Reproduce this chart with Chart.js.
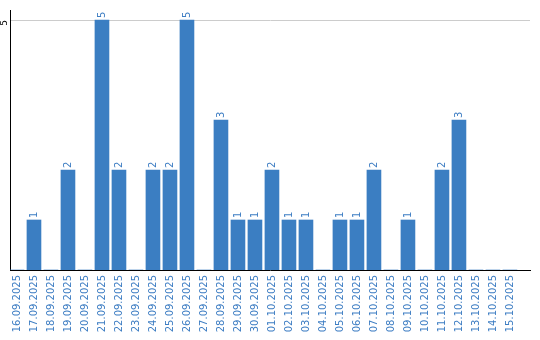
<!DOCTYPE html>
<html>
<head>
<meta charset="utf-8">
<script src="https://cdn.jsdelivr.net/npm/chart.js@4"></script>
<style>
    body { margin: 0; background: #fff; }
    #chart { display: block; }
</style>
</head>
<body>
<canvas id="chart" width="540" height="340"></canvas>
<script>
// Data
const dates = [
    '16.09.2025', '17.09.2025', '18.09.2025', '19.09.2025', '20.09.2025',
    '21.09.2025', '22.09.2025', '23.09.2025', '24.09.2025', '25.09.2025',
    '26.09.2025', '27.09.2025', '28.09.2025', '29.09.2025', '30.09.2025',
    '01.10.2025', '02.10.2025', '03.10.2025', '04.10.2025', '05.10.2025',
    '06.10.2025', '07.10.2025', '08.10.2025', '09.10.2025', '10.10.2025',
    '11.10.2025', '12.10.2025', '13.10.2025', '14.10.2025', '15.10.2025'
];
const counts = [
    0, 1, 0, 2, 0,
    5, 2, 0, 2, 2,
    5, 0, 3, 1, 1,
    2, 1, 1, 0, 1,
    1, 2, 0, 1, 0,
    2, 3, 0, 0, 0
];
const yTicks = [5];

const BLUE = '#3b7ec2';
const TEXT_BLUE = '#3d7dc3';

// value labels above the bars, rotated like the axis labels
const valueLabels = {
    id: 'valueLabels',
    afterDatasetsDraw(chart) {
        const ctx = chart.ctx;
        const meta = chart.getDatasetMeta(0);
        ctx.save();
        ctx.font = '10px "DejaVu Sans"';
        ctx.fillStyle = TEXT_BLUE;
        ctx.textAlign = 'left';
        ctx.textBaseline = 'middle';
        meta.data.forEach((bar, i) => {
            if (!counts[i]) return;
            ctx.save();
            ctx.translate(bar.x, bar.y - 2);
            ctx.rotate(-Math.PI / 2);
            ctx.fillText(String(counts[i]), 0, 0);
            ctx.restore();
        });
        ctx.restore();
    }
};

new Chart(document.getElementById('chart'), {
    type: 'bar',
    data: {
        datasets: [{
            data: counts.map((v, i) => ({ x: i, y: v })),
            backgroundColor: BLUE,
            borderWidth: 0,
            barThickness: 14
        }]
    },
    options: {
        responsive: false,
        animation: false,
        layout: { padding: { top: 10, right: 10, left: 0, bottom: 0 } },
        plugins: {
            legend: { display: false },
            tooltip: { enabled: false }
        },
        scales: {
            x: {
                type: 'linear',
                offset: false,
                bounds: 'data',
                min: -0.41,
                max: 30.18,
                afterBuildTicks: s => { s.ticks = dates.map((d, i) => ({ value: i })); },
                afterFit: s => {
                    s.height = 70;
                    s.paddingLeft = 0;
                    s.paddingRight = 0;
                },
                grid: { display: false, drawTicks: false },
                border: { color: '#000', width: 1 },
                ticks: {
                    autoSkip: false,
                    minRotation: 90,
                    maxRotation: 90,
                    padding: 5,
                    color: TEXT_BLUE,
                    font: { family: 'DejaVu Sans', size: 10 },
                    callback: v => dates[v]
                }
            },
            y: {
                min: 0,
                max: 5.2,
                afterBuildTicks: s => { s.ticks = yTicks.map(v => ({ value: v })); },
                afterFit: s => {
                    s.width = 10;
                    s.paddingTop = 0;
                    s.paddingBottom = 0;
                },
                grid: { color: '#cccccc', drawTicks: false },
                border: { color: '#000', width: 1 },
                ticks: {
                    minRotation: 90,
                    maxRotation: 90,
                    padding: 5,
                    color: '#000',
                    font: { family: 'DejaVu Sans', size: 9 }
                }
            }
        }
    },
    plugins: [valueLabels]
});
</script>
</body>
</html>
